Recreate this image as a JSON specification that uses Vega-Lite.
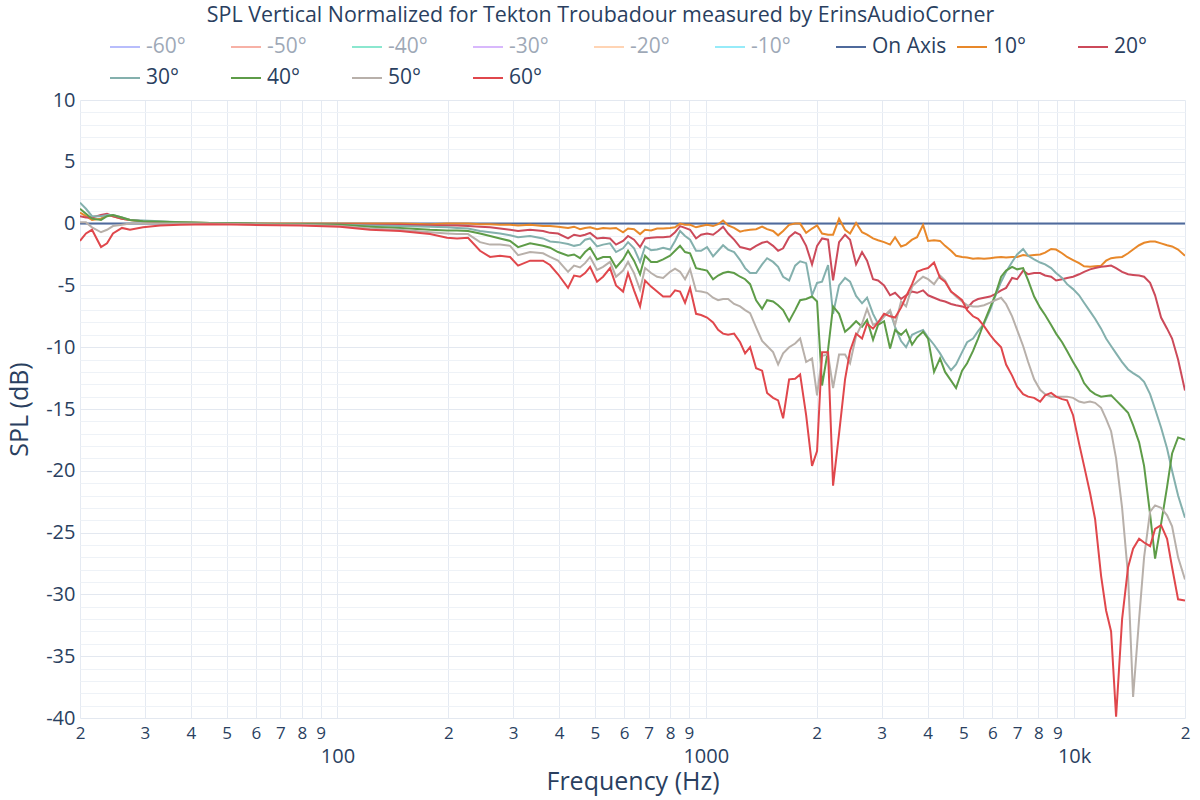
{
"$schema":"https://vega.github.io/schema/vega-lite/v6.json",
"width":1105,"height":618,
"autosize":{"type":"none"},
"padding":{"left":80,"top":100,"right":15,"bottom":82},
"background":"#ffffff",
"config":{"view":{"stroke":null},"font":"Open Sans","axis":{"labelFont":"Open Sans","titleFont":"Open Sans"},"legend":{"labelFont":"Open Sans"}},
"title":{"text":"SPL Vertical Normalized for Tekton Troubadour measured by ErinsAudioCorner","font":"Open Sans","fontSize":21.4,"fontWeight":"normal","color":"#2a3f5f","anchor":"middle","frame":"group","dx":-32,"offset":5},
"data":{"values":[
{"f":20,"On Axis":0,"10°":0.9,"20°":0.6,"30°":1.7,"40°":1.2,"50°":0.1,"60°":-1.4},
{"f":20.76,"On Axis":0,"10°":0.6,"20°":0.5,"30°":1.2,"40°":0.8,"50°":0.1,"60°":-0.8},
{"f":21.56,"On Axis":0,"10°":0.3,"20°":0.5,"30°":0.6,"40°":0.4,"50°":-0.3,"60°":-0.5},
{"f":22.81,"On Axis":0,"10°":0.4,"20°":0.7,"30°":0.6,"40°":0.3,"50°":-0.7,"60°":-1.9},
{"f":23.68,"On Axis":0,"10°":0.7,"20°":0.8,"30°":0.7,"40°":0.6,"50°":-0.5,"60°":-1.6},
{"f":24.58,"On Axis":0,"10°":0.6,"20°":0.6,"30°":0.7,"40°":0.7,"50°":-0.2,"60°":-0.8},
{"f":26.0,"On Axis":0,"10°":0.4,"20°":0.4,"30°":0.5,"40°":0.5,"50°":-0.1,"60°":-0.35},
{"f":27.34,"On Axis":0,"10°":0.3,"20°":0.3,"30°":0.3,"40°":0.3,"50°":0.0,"60°":-0.5},
{"f":29.66,"On Axis":0,"10°":0.2,"20°":0.2,"30°":0.25,"40°":0.2,"50°":0.0,"60°":-0.3},
{"f":32.99,"On Axis":0,"10°":0.15,"20°":0.1,"30°":0.2,"40°":0.15,"50°":0.0,"60°":-0.15},
{"f":37.37,"On Axis":0,"10°":0.1,"20°":0.05,"30°":0.1,"40°":0.1,"50°":0.0,"60°":-0.1},
{"f":45.08,"On Axis":0,"10°":0.05,"20°":0.0,"30°":0.05,"40°":0.05,"50°":0.0,"60°":-0.05},
{"f":57.87,"On Axis":0,"10°":0.0,"20°":-0.05,"30°":0.0,"40°":0.0,"50°":-0.05,"60°":-0.1},
{"f":79.13,"On Axis":0,"10°":0.0,"20°":-0.05,"30°":-0.05,"40°":-0.05,"50°":-0.1,"60°":-0.15},
{"f":101.6,"On Axis":0,"10°":0.0,"20°":-0.05,"30°":-0.1,"40°":-0.1,"50°":-0.2,"60°":-0.25},
{"f":122.6,"On Axis":0,"10°":0.0,"20°":-0.1,"30°":-0.15,"40°":-0.25,"50°":-0.4,"60°":-0.5},
{"f":147.9,"On Axis":0,"10°":0.0,"20°":-0.1,"30°":-0.2,"40°":-0.35,"50°":-0.5,"60°":-0.6},
{"f":178.4,"On Axis":0,"10°":-0.05,"20°":-0.15,"30°":-0.25,"40°":-0.5,"50°":-0.7,"60°":-0.85},
{"f":198.4,"On Axis":0,"10°":0.0,"20°":-0.15,"30°":-0.3,"40°":-0.55,"50°":-0.8,"60°":-1.15},
{"f":211.2,"On Axis":0,"10°":0.0,"20°":-0.15,"30°":-0.35,"40°":-0.55,"50°":-0.85,"60°":-1.2},
{"f":226.2,"On Axis":0,"10°":0.0,"20°":-0.2,"30°":-0.4,"40°":-0.6,"50°":-0.85,"60°":-1.15},
{"f":243.8,"On Axis":0,"10°":-0.05,"20°":-0.25,"30°":-0.6,"40°":-0.8,"50°":-1.5,"60°":-2.2},
{"f":259.6,"On Axis":0,"10°":-0.05,"20°":-0.3,"30°":-0.7,"40°":-1.0,"50°":-1.7,"60°":-2.7},
{"f":276.3,"On Axis":0,"10°":-0.1,"20°":-0.4,"30°":-0.8,"40°":-1.2,"50°":-1.7,"60°":-2.6},
{"f":294.2,"On Axis":0,"10°":-0.1,"20°":-0.5,"30°":-0.95,"40°":-1.4,"50°":-1.8,"60°":-2.7},
{"f":309.3,"On Axis":0,"10°":-0.15,"20°":-0.6,"30°":-1.1,"40°":-1.9,"50°":-2.55,"60°":-3.4},
{"f":333.4,"On Axis":0,"10°":-0.1,"20°":-0.5,"30°":-1.0,"40°":-1.6,"50°":-2.3,"60°":-3.0},
{"f":361.6,"On Axis":0,"10°":-0.2,"20°":-0.6,"30°":-1.2,"40°":-1.8,"50°":-2.4,"60°":-3.0},
{"f":377.7,"On Axis":0,"10°":-0.2,"20°":-0.75,"30°":-1.45,"40°":-1.95,"50°":-2.7,"60°":-3.35},
{"f":397.1,"On Axis":0,"10°":-0.25,"20°":-0.8,"30°":-1.5,"40°":-2.3,"50°":-3.0,"60°":-4.1},
{"f":422.7,"On Axis":0,"10°":-0.35,"20°":-1.2,"30°":-1.65,"40°":-2.6,"50°":-3.9,"60°":-5.2},
{"f":438.9,"On Axis":0,"10°":-0.25,"20°":-0.9,"30°":-1.8,"40°":-2.5,"50°":-3.4,"60°":-4.2},
{"f":455.7,"On Axis":0,"10°":-0.45,"20°":-1.0,"30°":-1.7,"40°":-2.8,"50°":-3.55,"60°":-4.3},
{"f":470.2,"On Axis":0,"10°":-0.35,"20°":-0.9,"30°":-1.3,"40°":-2.3,"50°":-3.2,"60°":-4.0},
{"f":485.2,"On Axis":0,"10°":-0.3,"20°":-0.75,"30°":-1.2,"40°":-1.95,"50°":-2.7,"60°":-3.5},
{"f":506.7,"On Axis":0,"10°":-0.45,"20°":-1.2,"30°":-1.85,"40°":-2.9,"50°":-3.75,"60°":-4.7},
{"f":526.2,"On Axis":0,"10°":-0.35,"20°":-1.15,"30°":-1.7,"40°":-2.7,"50°":-3.5,"60°":-4.3},
{"f":549.6,"On Axis":0,"10°":-0.4,"20°":-1.2,"30°":-1.6,"40°":-2.7,"50°":-3.1,"60°":-3.6},
{"f":570.6,"On Axis":0,"10°":-0.35,"20°":-1.7,"30°":-2.3,"40°":-3.55,"50°":-4.3,"60°":-5.0},
{"f":596.2,"On Axis":0,"10°":-0.7,"20°":-1.4,"30°":-2.0,"40°":-2.9,"50°":-3.8,"60°":-5.5},
{"f":615.1,"On Axis":0,"10°":-0.4,"20°":-1.0,"30°":-1.5,"40°":-2.2,"50°":-3.1,"60°":-4.0},
{"f":638.6,"On Axis":0,"10°":-0.45,"20°":-1.3,"30°":-2.0,"40°":-3.0,"50°":-4.0,"60°":-5.4},
{"f":663.1,"On Axis":0,"10°":-0.85,"20°":-1.9,"30°":-3.1,"40°":-4.1,"50°":-5.35,"60°":-6.7},
{"f":684.2,"On Axis":0,"10°":-0.5,"20°":-1.2,"30°":-1.85,"40°":-2.6,"50°":-3.6,"60°":-4.6},
{"f":710.4,"On Axis":0,"10°":-0.55,"20°":-1.15,"30°":-2.15,"40°":-3.1,"50°":-4.0,"60°":-5.1},
{"f":737.6,"On Axis":0,"10°":-0.4,"20°":-1.1,"30°":-2.1,"40°":-3.1,"50°":-4.3,"60°":-5.5},
{"f":765.8,"On Axis":0,"10°":-0.4,"20°":-1.1,"30°":-1.95,"40°":-2.9,"50°":-4.4,"60°":-5.9},
{"f":799.9,"On Axis":0,"10°":-0.35,"20°":-1.05,"30°":-2.1,"40°":-2.6,"50°":-3.9,"60°":-5.9},
{"f":825.2,"On Axis":0,"10°":-0.3,"20°":-0.7,"30°":-1.4,"40°":-2.2,"50°":-3.65,"60°":-5.4},
{"f":851.4,"On Axis":0,"10°":0.0,"20°":-0.2,"30°":-0.6,"40°":-1.8,"50°":-3.9,"60°":-5.5},
{"f":878.4,"On Axis":0,"10°":-0.1,"20°":-0.35,"30°":-1.0,"40°":-2.3,"50°":-4.5,"60°":-6.4},
{"f":906.4,"On Axis":0,"10°":-0.1,"20°":-0.5,"30°":-1.3,"40°":-2.4,"50°":-3.7,"60°":-5.2},
{"f":941.0,"On Axis":0,"10°":-0.3,"20°":-1.2,"30°":-2.2,"40°":-3.6,"50°":-5.45,"60°":-7.3},
{"f":970.9,"On Axis":0,"10°":-0.2,"20°":-0.9,"30°":-2.2,"40°":-3.7,"50°":-5.5,"60°":-7.4},
{"f":1008,"On Axis":0,"10°":-0.1,"20°":-0.8,"30°":-1.9,"40°":-3.8,"50°":-5.6,"60°":-7.6},
{"f":1046.6,"On Axis":0,"10°":-0.2,"20°":-0.9,"30°":-2.65,"40°":-4.5,"50°":-6.0,"60°":-8.0},
{"f":1080,"On Axis":0,"10°":-0.05,"20°":-0.6,"30°":-2.2,"40°":-4.2,"50°":-6.2,"60°":-8.6},
{"f":1114,"On Axis":0,"10°":0.25,"20°":-0.25,"30°":-1.75,"40°":-4.0,"50°":-6.1,"60°":-8.9},
{"f":1149.6,"On Axis":0,"10°":-0.15,"20°":-0.8,"30°":-2.1,"40°":-3.9,"50°":-6.1,"60°":-9.0},
{"f":1193.6,"On Axis":0,"10°":-0.35,"20°":-1.3,"30°":-2.3,"40°":-4.0,"50°":-6.5,"60°":-8.9},
{"f":1239.3,"On Axis":0,"10°":-0.65,"20°":-1.9,"30°":-2.95,"40°":-4.3,"50°":-6.7,"60°":-9.6},
{"f":1278.6,"On Axis":0,"10°":-0.55,"20°":-2.0,"30°":-3.6,"40°":-4.5,"50°":-7.0,"60°":-10.5},
{"f":1319.2,"On Axis":0,"10°":-0.5,"20°":-2.1,"30°":-4.0,"40°":-4.9,"50°":-7.25,"60°":-10.0},
{"f":1369.7,"On Axis":0,"10°":-0.45,"20°":-1.8,"30°":-4.0,"40°":-6.2,"50°":-8.4,"60°":-11.7},
{"f":1422,"On Axis":0,"10°":-0.25,"20°":-1.55,"30°":-3.3,"40°":-6.9,"50°":-9.5,"60°":-11.9},
{"f":1467,"On Axis":0,"10°":-0.45,"20°":-1.45,"30°":-2.8,"40°":-6.2,"50°":-9.9,"60°":-13.7},
{"f":1523,"On Axis":0,"10°":-0.6,"20°":-1.8,"30°":-3.1,"40°":-6.3,"50°":-10.4,"60°":-14.1},
{"f":1571.6,"On Axis":0,"10°":-0.95,"20°":-2.2,"30°":-3.5,"40°":-6.6,"50°":-11.4,"60°":-14.3},
{"f":1621.6,"On Axis":0,"10°":-0.6,"20°":-2.0,"30°":-4.3,"40°":-7.0,"50°":-10.5,"60°":-15.75},
{"f":1683.6,"On Axis":0,"10°":-0.1,"20°":-1.1,"30°":-4.6,"40°":-7.9,"50°":-10.0,"60°":-12.6},
{"f":1748,"On Axis":0,"10°":0.0,"20°":-0.7,"30°":-3.4,"40°":-7.0,"50°":-9.7,"60°":-12.55},
{"f":1803.6,"On Axis":0,"10°":0.0,"20°":-0.9,"30°":-3.05,"40°":-6.2,"50°":-9.3,"60°":-12.2},
{"f":1872.6,"On Axis":0,"10°":-0.75,"20°":-1.8,"30°":-3.2,"40°":-6.1,"50°":-11.2,"60°":-15.5},
{"f":1943,"On Axis":0,"10°":-0.4,"20°":-3.3,"30°":-5.8,"40°":-5.9,"50°":-10.9,"60°":-19.6},
{"f":2005,"On Axis":0,"10°":-0.15,"20°":-1.8,"30°":-4.8,"40°":-6.3,"50°":-13.9,"60°":-18.4},
{"f":2068.6,"On Axis":0,"10°":-0.8,"20°":-1.2,"30°":-4.7,"40°":-13.1,"50°":-10.7,"60°":-10.4},
{"f":2147.8,"On Axis":0,"10°":-0.9,"20°":-1.3,"30°":-3.35,"40°":-10.2,"50°":-10.6,"60°":-10.4},
{"f":2216,"On Axis":0,"10°":-0.9,"20°":-4.6,"30°":-7.3,"40°":-6.7,"50°":-13.3,"60°":-21.2},
{"f":2300.6,"On Axis":0,"10°":0.4,"20°":-1.5,"30°":-5.0,"40°":-7.3,"50°":-10.6,"60°":-17.0},
{"f":2388.4,"On Axis":0,"10°":-0.5,"20°":-0.9,"30°":-4.4,"40°":-8.75,"50°":-10.6,"60°":-12.6},
{"f":2464,"On Axis":0,"10°":-0.8,"20°":-1.3,"30°":-4.7,"40°":-8.4,"50°":-11.3,"60°":-10.3},
{"f":2558.6,"On Axis":0,"10°":0.05,"20°":-3.3,"30°":-5.85,"40°":-7.9,"50°":-9.1,"60°":-8.9},
{"f":2656,"On Axis":0,"10°":-0.7,"20°":-2.3,"30°":-6.45,"40°":-8.35,"50°":-8.1,"60°":-9.3},
{"f":2740.6,"On Axis":0,"10°":-0.9,"20°":-3.0,"30°":-6.0,"40°":-7.8,"50°":-6.9,"60°":-8.1},
{"f":2845,"On Axis":0,"10°":-1.2,"20°":-4.5,"30°":-7.3,"40°":-9.4,"50°":-8.2,"60°":-8.5},
{"f":2935.6,"On Axis":0,"10°":-1.35,"20°":-4.6,"30°":-8.1,"40°":-8.2,"50°":-8.0,"60°":-8.0},
{"f":3048,"On Axis":0,"10°":-1.5,"20°":-5.0,"30°":-7.5,"40°":-7.9,"50°":-7.5,"60°":-7.3},
{"f":3164.6,"On Axis":0,"10°":-1.7,"20°":-5.8,"30°":-7.1,"40°":-10.1,"50°":-7.0,"60°":-7.5},
{"f":3265,"On Axis":0,"10°":-1.1,"20°":-5.6,"30°":-8.35,"40°":-8.6,"50°":-8.2,"60°":-7.6},
{"f":3389.8,"On Axis":0,"10°":-1.85,"20°":-6.1,"30°":-9.5,"40°":-9.0,"50°":-6.3,"60°":-6.8},
{"f":3497.4,"On Axis":0,"10°":-1.7,"20°":-5.8,"30°":-10.0,"40°":-8.6,"50°":-6.7,"60°":-5.9},
{"f":3631,"On Axis":0,"10°":-1.3,"20°":-5.5,"30°":-9.0,"40°":-9.8,"50°":-5.1,"60°":-4.9},
{"f":3746,"On Axis":0,"10°":-1.1,"20°":-5.6,"30°":-8.8,"40°":-9.2,"50°":-4.7,"60°":-3.9},
{"f":3889,"On Axis":0,"10°":-0.1,"20°":-5.4,"30°":-8.6,"40°":-8.75,"50°":-4.3,"60°":-3.7},
{"f":4013,"On Axis":0,"10°":-1.4,"20°":-5.8,"30°":-9.2,"40°":-9.3,"50°":-4.5,"60°":-3.6},
{"f":4166,"On Axis":0,"10°":-1.35,"20°":-6.0,"30°":-9.8,"40°":-12.0,"50°":-4.9,"60°":-3.15},
{"f":4325,"On Axis":0,"10°":-1.4,"20°":-6.2,"30°":-10.5,"40°":-10.9,"50°":-4.2,"60°":-4.4},
{"f":4463,"On Axis":0,"10°":-1.8,"20°":-6.3,"30°":-11.2,"40°":-12.0,"50°":-4.6,"60°":-4.7},
{"f":4633,"On Axis":0,"10°":-2.2,"20°":-6.5,"30°":-11.85,"40°":-12.7,"50°":-5.5,"60°":-5.5},
{"f":4780,"On Axis":0,"10°":-2.6,"20°":-6.6,"30°":-11.4,"40°":-13.3,"50°":-5.9,"60°":-5.8},
{"f":4964,"On Axis":0,"10°":-2.7,"20°":-6.7,"30°":-10.4,"40°":-11.9,"50°":-6.3,"60°":-6.2},
{"f":5122,"On Axis":0,"10°":-2.75,"20°":-6.85,"30°":-9.6,"40°":-11.3,"50°":-6.6,"60°":-7.0},
{"f":5316,"On Axis":0,"10°":-2.85,"20°":-6.3,"30°":-9.3,"40°":-10.3,"50°":-6.7,"60°":-7.5},
{"f":5486,"On Axis":0,"10°":-2.8,"20°":-6.1,"30°":-8.7,"40°":-9.3,"50°":-6.7,"60°":-7.7},
{"f":5695,"On Axis":0,"10°":-2.85,"20°":-6.0,"30°":-8.1,"40°":-8.0,"50°":-6.6,"60°":-8.3},
{"f":5914,"On Axis":0,"10°":-2.8,"20°":-5.9,"30°":-7.0,"40°":-6.8,"50°":-6.4,"60°":-9.0},
{"f":6102,"On Axis":0,"10°":-2.75,"20°":-5.7,"30°":-5.9,"40°":-5.8,"50°":-6.2,"60°":-9.5},
{"f":6336,"On Axis":0,"10°":-2.7,"20°":-5.4,"30°":-4.7,"40°":-4.3,"50°":-6.0,"60°":-10.0},
{"f":6536,"On Axis":0,"10°":-2.75,"20°":-5.2,"30°":-3.9,"40°":-3.8,"50°":-6.5,"60°":-11.4},
{"f":6786,"On Axis":0,"10°":-2.7,"20°":-4.4,"30°":-3.1,"40°":-3.5,"50°":-7.5,"60°":-12.3},
{"f":7002,"On Axis":0,"10°":-2.7,"20°":-4.5,"30°":-2.5,"40°":-3.7,"50°":-8.6,"60°":-13.2},
{"f":7270,"On Axis":0,"10°":-2.55,"20°":-3.8,"30°":-2.05,"40°":-3.6,"50°":-9.9,"60°":-13.8},
{"f":7502,"On Axis":0,"10°":-2.6,"20°":-4.1,"30°":-2.6,"40°":-4.6,"50°":-11.2,"60°":-14.0},
{"f":7788,"On Axis":0,"10°":-2.55,"20°":-4.0,"30°":-2.9,"40°":-5.9,"50°":-12.6,"60°":-14.1},
{"f":8086,"On Axis":0,"10°":-2.5,"20°":-4.0,"30°":-3.15,"40°":-6.8,"50°":-13.45,"60°":-14.4},
{"f":8342,"On Axis":0,"10°":-2.35,"20°":-4.2,"30°":-3.3,"40°":-7.4,"50°":-13.8,"60°":-13.9},
{"f":8662,"On Axis":0,"10°":-2.05,"20°":-4.3,"30°":-3.6,"40°":-8.2,"50°":-14.0,"60°":-13.7},
{"f":8934,"On Axis":0,"10°":-2.1,"20°":-4.6,"30°":-4.0,"40°":-8.9,"50°":-14.0,"60°":-14.0},
{"f":9276,"On Axis":0,"10°":-2.4,"20°":-4.5,"30°":-4.4,"40°":-9.6,"50°":-14.0,"60°":-14.2},
{"f":9570,"On Axis":0,"10°":-2.7,"20°":-4.4,"30°":-4.9,"40°":-10.3,"50°":-14.0,"60°":-14.3},
{"f":9936,"On Axis":0,"10°":-2.95,"20°":-4.3,"30°":-5.3,"40°":-11.2,"50°":-14.1,"60°":-15.5},
{"f":10316,"On Axis":0,"10°":-3.2,"20°":-4.1,"30°":-5.8,"40°":-12.0,"50°":-14.4,"60°":-17.8},
{"f":10642,"On Axis":0,"10°":-3.45,"20°":-3.9,"30°":-6.4,"40°":-12.9,"50°":-14.5,"60°":-19.6},
{"f":11048,"On Axis":0,"10°":-3.5,"20°":-3.7,"30°":-7.1,"40°":-13.5,"50°":-14.4,"60°":-21.8},
{"f":11400,"On Axis":0,"10°":-3.45,"20°":-3.6,"30°":-7.7,"40°":-13.8,"50°":-14.5,"60°":-23.9},
{"f":11836,"On Axis":0,"10°":-3.4,"20°":-3.5,"30°":-8.5,"40°":-14.0,"50°":-14.9,"60°":-28.5},
{"f":12212,"On Axis":0,"10°":-3.0,"20°":-3.45,"30°":-9.3,"40°":-13.95,"50°":-15.8,"60°":-31.3},
{"f":12600,"On Axis":0,"10°":-2.8,"20°":-3.4,"30°":-9.9,"40°":-13.9,"50°":-16.8,"60°":-33.0},
{"f":13000,"On Axis":0,"10°":-2.75,"20°":-3.6,"30°":-10.5,"40°":-14.3,"50°":-19.0,"60°":-39.9},
{"f":13498,"On Axis":0,"10°":-2.7,"20°":-3.9,"30°":-11.2,"40°":-14.8,"50°":-23.0,"60°":-32.0},
{"f":14012,"On Axis":0,"10°":-2.4,"20°":-4.1,"30°":-11.8,"40°":-15.3,"50°":-28.5,"60°":-27.8},
{"f":14458,"On Axis":0,"10°":-2.1,"20°":-4.15,"30°":-12.1,"40°":-16.3,"50°":-38.3,"60°":-26.3},
{"f":15010,"On Axis":0,"10°":-1.75,"20°":-4.2,"30°":-12.4,"40°":-17.7,"50°":-32.0,"60°":-25.5},
{"f":15486,"On Axis":0,"10°":-1.55,"20°":-4.3,"30°":-12.8,"40°":-19.6,"50°":-27.0,"60°":-25.8},
{"f":16078,"On Axis":0,"10°":-1.45,"20°":-4.8,"30°":-13.8,"40°":-23.5,"50°":-23.3,"60°":-26.1},
{"f":16588,"On Axis":0,"10°":-1.45,"20°":-5.8,"30°":-15.0,"40°":-27.1,"50°":-22.8,"60°":-24.7},
{"f":17222,"On Axis":0,"10°":-1.6,"20°":-7.6,"30°":-16.5,"40°":-24.3,"50°":-23.0,"60°":-24.4},
{"f":17880,"On Axis":0,"10°":-1.75,"20°":-8.5,"30°":-18.2,"40°":-21.3,"50°":-23.6,"60°":-25.5},
{"f":18448,"On Axis":0,"10°":-1.85,"20°":-9.3,"30°":-20.0,"40°":-18.6,"50°":-24.5,"60°":-27.8},
{"f":19154,"On Axis":0,"10°":-2.1,"20°":-11.0,"30°":-22.0,"40°":-17.3,"50°":-27.0,"60°":-30.4},
{"f":20000,"On Axis":0,"10°":-2.6,"20°":-13.5,"30°":-23.8,"40°":-17.5,"50°":-28.8,"60°":-30.5}
]},
"transform":[{"fold":["On Axis","10°","20°","30°","40°","50°","60°"],"as":["series","spl"]}],
"mark":{"type":"line","strokeWidth":2,"clip":true},
"encoding":{
"x":{"field":"f","type":"quantitative","scale":{"type":"log","domain":[20,20000],"nice":false},
 "axis":{"values":[20,30,40,50,60,70,80,90,100,200,300,400,500,600,700,800,900,1000,2000,3000,4000,5000,6000,7000,8000,9000,10000,20000],
  "labelExpr":"datum.value==100?'100':datum.value==1000?'1000':datum.value==10000?'10k':substring(''+datum.value,0,1)",
  "labelFontSize":{"condition":{"test":"datum.value==100||datum.value==1000||datum.value==10000","value":20},"value":17},
  "labelPadding":{"condition":{"test":"datum.value==100||datum.value==1000||datum.value==10000","value":28},"value":7},
  "labelColor":"#2a3f5f","labelOverlap":false,"labelFlush":false,"labelBound":false,"ticks":false,"domain":false,
  "grid":true,"gridColor":"#e5eaf2","gridWidth":1,
  "title":"Frequency (Hz)","titleFontSize":25,"titleFontWeight":"normal","titleColor":"#2a3f5f","titlePadding":3}},
"y":{"field":"spl","type":"quantitative","scale":{"domain":[-40,10],"nice":false,"zero":false},
 "axis":{"values":[-40,-39,-38,-37,-36,-35,-34,-33,-32,-31,-30,-29,-28,-27,-26,-25,-24,-23,-22,-21,-20,-19,-18,-17,-16,-15,-14,-13,-12,-11,-10,-9,-8,-7,-6,-5,-4,-3,-2,-1,0,1,2,3,4,5,6,7,8,9,10],
  "labelExpr":"datum.value%5===0?''+datum.value:''",
  "labelFontSize":20,"labelColor":"#2a3f5f","labelPadding":5,"labelOverlap":false,"labelBound":false,"labelFlush":false,"ticks":false,"domain":false,
  "grid":true,"gridColor":{"condition":{"test":"datum.value%5===0","value":"#e3e8f0"},"value":"#eef2f7"},"gridWidth":1,
  "title":"SPL (dB)","titleFontSize":25,"titleFontWeight":"normal","titleColor":"#2a3f5f","titlePadding":13}},
"color":{"field":"series","type":"nominal",
 "scale":{"domain":["-60°","-50°","-40°","-30°","-20°","-10°","On Axis","10°","20°","30°","40°","50°","60°"],
  "range":["#636efa","#EF553B","#00cc96","#ab63fa","#FFA15A","#19d3f3","#4f6a9c","#e8882a","#cc4a5a","#84b0ad","#5e9c48","#b8b0aa","#e0474c"]},
 "legend":{"orient":"none","legendX":29,"legendY":-69,"direction":"horizontal","columns":9,"gridAlign":"all","title":null,
  "symbolType":"stroke","symbolSize":900,"symbolStrokeWidth":2,"labelFontSize":21,"labelColor":"#2a3f5f","labelOffset":5,"labelLimit":300,
  "columnPadding":6,"rowPadding":5,
  "encode":{"labels":{"update":{"opacity":{"signal":"indexof(['-60°','-50°','-40°','-30°','-20°','-10°'],datum.value)>=0?0.45:1"}}},
            "symbols":{"update":{"opacity":{"signal":"indexof(['-60°','-50°','-40°','-30°','-20°','-10°'],datum.value)>=0?0.45:1"}}}}}}
}
}
